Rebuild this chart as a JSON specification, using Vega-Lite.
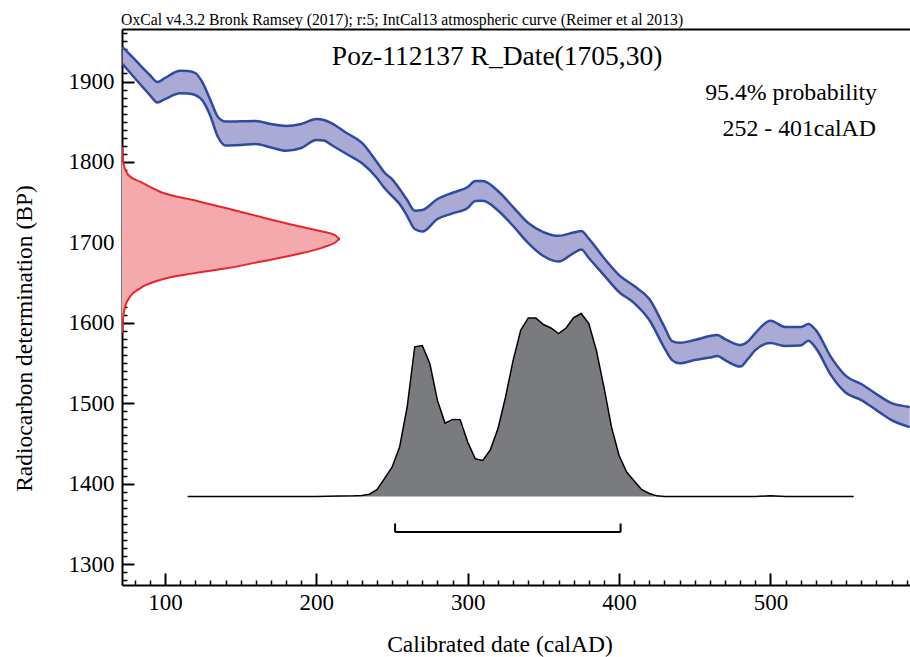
{
  "$schema": "https://vega.github.io/schema/vega-lite/v6.json",
  "width": 788,
  "height": 556,
  "autosize": {"type": "none"},
  "padding": {"left": 122, "top": 29, "right": 0, "bottom": 72},
  "background": "white",
  "config": {"view": {"stroke": null}, "font": "Liberation Serif"},
  "datasets": {
    "curve": [
      {"cal": 72, "hi": 1942.9, "lo": 1921.8},
      {"cal": 80, "hi": 1927.4, "lo": 1904.4},
      {"cal": 90, "hi": 1908.1, "lo": 1883.2},
      {"cal": 95, "hi": 1899.4, "lo": 1873.9},
      {"cal": 100, "hi": 1904.4, "lo": 1878.2},
      {"cal": 110, "hi": 1913.4, "lo": 1885.3},
      {"cal": 115, "hi": 1913.1, "lo": 1885.1},
      {"cal": 120, "hi": 1910.6, "lo": 1883.2},
      {"cal": 125, "hi": 1898.1, "lo": 1875.7},
      {"cal": 130, "hi": 1877.0, "lo": 1857.1},
      {"cal": 135, "hi": 1855.8, "lo": 1831.0},
      {"cal": 140, "hi": 1850.2, "lo": 1820.4},
      {"cal": 150, "hi": 1850.5, "lo": 1821.0},
      {"cal": 160, "hi": 1850.9, "lo": 1822.3},
      {"cal": 170, "hi": 1847.1, "lo": 1817.9},
      {"cal": 180, "hi": 1844.7, "lo": 1813.9},
      {"cal": 190, "hi": 1847.1, "lo": 1817.3},
      {"cal": 200, "hi": 1853.4, "lo": 1827.2},
      {"cal": 205, "hi": 1852.1, "lo": 1826.6},
      {"cal": 210, "hi": 1848.4, "lo": 1821.0},
      {"cal": 220, "hi": 1835.9, "lo": 1809.8},
      {"cal": 230, "hi": 1824.1, "lo": 1798.6},
      {"cal": 240, "hi": 1799.9, "lo": 1780.0},
      {"cal": 245, "hi": 1786.8, "lo": 1767.5},
      {"cal": 250, "hi": 1778.7, "lo": 1757.6},
      {"cal": 255, "hi": 1766.3, "lo": 1747.6},
      {"cal": 260, "hi": 1752.6, "lo": 1732.7},
      {"cal": 265, "hi": 1739.3, "lo": 1716.5},
      {"cal": 270, "hi": 1740.2, "lo": 1713.4},
      {"cal": 280, "hi": 1753.9, "lo": 1729.0},
      {"cal": 290, "hi": 1761.7, "lo": 1736.1},
      {"cal": 300, "hi": 1768.8, "lo": 1742.7},
      {"cal": 305, "hi": 1776.2, "lo": 1751.4},
      {"cal": 310, "hi": 1776.2, "lo": 1751.7},
      {"cal": 320, "hi": 1763.8, "lo": 1739.6},
      {"cal": 330, "hi": 1743.9, "lo": 1720.3},
      {"cal": 340, "hi": 1724.0, "lo": 1699.1},
      {"cal": 350, "hi": 1712.8, "lo": 1683.0},
      {"cal": 360, "hi": 1708.1, "lo": 1676.1},
      {"cal": 370, "hi": 1712.2, "lo": 1686.7},
      {"cal": 375, "hi": 1714.1, "lo": 1691.0},
      {"cal": 380, "hi": 1704.7, "lo": 1680.5},
      {"cal": 390, "hi": 1680.5, "lo": 1659.3},
      {"cal": 400, "hi": 1659.3, "lo": 1638.2},
      {"cal": 410, "hi": 1645.6, "lo": 1624.5},
      {"cal": 420, "hi": 1629.5, "lo": 1603.4},
      {"cal": 430, "hi": 1594.6, "lo": 1568.5},
      {"cal": 435, "hi": 1577.2, "lo": 1553.6},
      {"cal": 440, "hi": 1575.1, "lo": 1549.5},
      {"cal": 450, "hi": 1578.5, "lo": 1553.6},
      {"cal": 460, "hi": 1583.5, "lo": 1556.7},
      {"cal": 465, "hi": 1584.7, "lo": 1558.6},
      {"cal": 470, "hi": 1579.7, "lo": 1553.6},
      {"cal": 480, "hi": 1572.3, "lo": 1545.5},
      {"cal": 485, "hi": 1576.6, "lo": 1554.8},
      {"cal": 490, "hi": 1587.2, "lo": 1566.0},
      {"cal": 500, "hi": 1602.5, "lo": 1574.7},
      {"cal": 510, "hi": 1594.6, "lo": 1571.0},
      {"cal": 520, "hi": 1594.6, "lo": 1571.6},
      {"cal": 525, "hi": 1598.4, "lo": 1577.6},
      {"cal": 530, "hi": 1590.9, "lo": 1568.5},
      {"cal": 540, "hi": 1557.3, "lo": 1534.9},
      {"cal": 550, "hi": 1533.7, "lo": 1512.6},
      {"cal": 560, "hi": 1523.8, "lo": 1503.9},
      {"cal": 570, "hi": 1511.3, "lo": 1491.4},
      {"cal": 580, "hi": 1500.1, "lo": 1479.0},
      {"cal": 590, "hi": 1495.8, "lo": 1471.5},
      {"cal": 592, "hi": 1495.1, "lo": 1470.3}
    ],
    "rdate": [
      {"bp": 1587.2, "p": 0},
      {"bp": 1600, "p": 0.003},
      {"bp": 1619.9, "p": 0.014},
      {"bp": 1632.3, "p": 0.037},
      {"bp": 1642.8, "p": 0.083},
      {"bp": 1653.1, "p": 0.174},
      {"bp": 1661.4, "p": 0.327},
      {"bp": 1667.7, "p": 0.480},
      {"bp": 1675.9, "p": 0.633},
      {"bp": 1684.2, "p": 0.786},
      {"bp": 1693.8, "p": 0.923},
      {"bp": 1699.5, "p": 0.977},
      {"bp": 1704.1, "p": 1.0},
      {"bp": 1709.1, "p": 0.977},
      {"bp": 1713.2, "p": 0.923},
      {"bp": 1721.5, "p": 0.786},
      {"bp": 1731.8, "p": 0.633},
      {"bp": 1742.3, "p": 0.480},
      {"bp": 1752.6, "p": 0.327},
      {"bp": 1762.9, "p": 0.174},
      {"bp": 1775.4, "p": 0.083},
      {"bp": 1783.7, "p": 0.029},
      {"bp": 1800, "p": 0.005},
      {"bp": 1818.9, "p": 0}
    ],
    "cal": [
      {"cal": 115, "p": 0}, {"cal": 150, "p": 0}, {"cal": 200, "p": 0}, {"cal": 215, "p": 0.002},
      {"cal": 225, "p": 0.003}, {"cal": 230, "p": 0.005}, {"cal": 235, "p": 0.012}, {"cal": 240, "p": 0.037},
      {"cal": 245, "p": 0.097}, {"cal": 250, "p": 0.160}, {"cal": 255, "p": 0.270}, {"cal": 260, "p": 0.489},
      {"cal": 265, "p": 0.818}, {"cal": 270, "p": 0.825}, {"cal": 275, "p": 0.726}, {"cal": 280, "p": 0.525},
      {"cal": 285, "p": 0.401}, {"cal": 290, "p": 0.421}, {"cal": 295, "p": 0.420}, {"cal": 300, "p": 0.297},
      {"cal": 305, "p": 0.206}, {"cal": 310, "p": 0.197}, {"cal": 315, "p": 0.256}, {"cal": 320, "p": 0.371},
      {"cal": 325, "p": 0.544}, {"cal": 330, "p": 0.744}, {"cal": 335, "p": 0.909}, {"cal": 340, "p": 0.976},
      {"cal": 345, "p": 0.976}, {"cal": 350, "p": 0.940}, {"cal": 355, "p": 0.921}, {"cal": 360, "p": 0.891},
      {"cal": 365, "p": 0.921}, {"cal": 370, "p": 0.978}, {"cal": 375, "p": 1.0}, {"cal": 380, "p": 0.945},
      {"cal": 385, "p": 0.799}, {"cal": 390, "p": 0.598}, {"cal": 395, "p": 0.379}, {"cal": 400, "p": 0.224},
      {"cal": 405, "p": 0.133}, {"cal": 410, "p": 0.084}, {"cal": 415, "p": 0.037}, {"cal": 420, "p": 0.016},
      {"cal": 425, "p": 0.003}, {"cal": 430, "p": 0}, {"cal": 490, "p": 0}, {"cal": 500, "p": 0.003},
      {"cal": 510, "p": 0}, {"cal": 555, "p": 0}
    ],
    "range": [{"from": 252, "to": 401}]
  },
  "resolve": {"scale": {"x": "independent", "y": "independent"}, "axis": {"x": "independent", "y": "independent"}},
  "layer": [
    {
      "data": {"name": "curve"},
      "mark": {"type": "area", "color": "#aaaad5", "opacity": 1, "interpolate": "monotone", "clip": true},
      "encoding": {
        "x": {"field": "cal", "type": "quantitative", "scale": {"domain": [71.6, 592.2], "nice": false, "zero": false},
          "axis": {
            "orient": "bottom",
            "values": [80,90,100,110,120,130,140,150,160,170,180,190,200,210,220,230,240,250,260,270,280,290,300,310,320,330,340,350,360,370,380,390,400,410,420,430,440,450,460,470,480,490,500,510,520,530,540,550,560,570,580,590],
            "format": "d",
            "labelExpr": "datum.value % 100 === 0 ? datum.label : ''",
            "tickSize": {"condition": {"test": "datum.value % 100 === 0", "value": -12}, "value": -5},
            "tickWidth": {"condition": {"test": "datum.value % 100 === 0", "value": 2}, "value": 1.5},
            "tickColor": "black",
            "domainColor": "black", "domainWidth": 2,
            "labelFont": "Liberation Serif", "labelFontSize": 23, "labelColor": "black",
            "labelBaseline": "top", "labelPadding": 18, "labelFlush": false, "labelOverlap": false,
            "grid": false,
            "title": "Calibrated date (calAD)", "titleFont": "Liberation Serif", "titleFontSize": 23.5, "titleFontWeight": "normal", "titleColor": "black",
            "titleX": 377.5, "titleY": 66, "titleBaseline": "alphabetic", "titleAlign": "center"
          }
        },
        "y": {"field": "lo", "type": "quantitative", "scale": {"domain": [1273.9, 1965.3], "nice": false, "zero": false},
          "axis": {
            "orient": "left",
            "values": [1280,1290,1300,1310,1320,1330,1340,1350,1360,1370,1380,1390,1400,1410,1420,1430,1440,1450,1460,1470,1480,1490,1500,1510,1520,1530,1540,1550,1560,1570,1580,1590,1600,1610,1620,1630,1640,1650,1660,1670,1680,1690,1700,1710,1720,1730,1740,1750,1760,1770,1780,1790,1800,1810,1820,1830,1840,1850,1860,1870,1880,1890,1900,1910,1920,1930,1940,1950,1960],
            "format": "d",
            "labelExpr": "datum.value % 100 === 0 ? datum.label : ''",
            "tickSize": {"condition": {"test": "datum.value % 100 === 0", "value": -12}, "value": -5},
            "tickWidth": {"condition": {"test": "datum.value % 100 === 0", "value": 2}, "value": 1.5},
            "tickColor": "black",
            "domainColor": "black", "domainWidth": 2,
            "labelFont": "Liberation Serif", "labelFontSize": 23, "labelColor": "black",
            "labelAlign": "right", "labelBaseline": "middle", "labelPadding": 20, "labelFlush": false, "labelOverlap": false,
            "grid": false,
            "title": "Radiocarbon determination (BP)", "titleFont": "Liberation Serif", "titleFontSize": 23.5, "titleFontWeight": "normal", "titleColor": "black",
            "titleAngle": -90, "titleX": -91, "titleY": 309, "titleBaseline": "alphabetic", "titleAlign": "center"
          }
        },
        "y2": {"field": "hi"}
      }
    },
    {
      "data": {"name": "curve"},
      "mark": {"type": "line", "color": "#2d4ba0", "strokeWidth": 2.5, "interpolate": "monotone", "clip": true},
      "encoding": {
        "x": {"field": "cal", "type": "quantitative", "scale": {"domain": [71.6, 592.2], "nice": false, "zero": false}, "axis": null},
        "y": {"field": "hi", "type": "quantitative", "scale": {"domain": [1273.9, 1965.3], "nice": false, "zero": false}, "axis": null}
      }
    },
    {
      "data": {"name": "curve"},
      "mark": {"type": "line", "color": "#2d4ba0", "strokeWidth": 2.5, "interpolate": "monotone", "clip": true},
      "encoding": {
        "x": {"field": "cal", "type": "quantitative", "scale": {"domain": [71.6, 592.2], "nice": false, "zero": false}, "axis": null},
        "y": {"field": "lo", "type": "quantitative", "scale": {"domain": [1273.9, 1965.3], "nice": false, "zero": false}, "axis": null}
      }
    },
    {
      "data": {"name": "rdate"},
      "mark": {"type": "line", "orient": "horizontal", "fill": "#f4aaac", "stroke": "#e5262b", "strokeWidth": 2, "interpolate": "monotone", "clip": true},
      "encoding": {
        "y": {"field": "bp", "type": "quantitative", "scale": {"domain": [1273.9, 1965.3], "nice": false, "zero": false}, "axis": null},
        "x": {"field": "p", "type": "quantitative", "scale": {"domain": [0, 3.6147], "nice": false}, "axis": null},
        "order": {"field": "bp", "type": "quantitative"}
      }
    },
    {
      "layer": [
        {
          "data": {"name": "cal"},
          "mark": {"type": "area", "color": "#7a7b7e", "opacity": 1, "clip": true, "line": {"color": "black", "strokeWidth": 1.5}},
          "encoding": {
            "x": {"field": "cal", "type": "quantitative", "scale": {"domain": [71.6, 592.2], "nice": false, "zero": false}, "axis": null},
            "y": {"field": "p", "type": "quantitative", "stack": null, "scale": {"domain": [-0.4844, 2.5561], "nice": false, "zero": false}, "axis": null}
          }
        },
        {
          "data": {"name": "range"},
          "mark": {"type": "rule", "color": "black", "strokeWidth": 2},
          "encoding": {
            "x": {"field": "from", "type": "quantitative", "axis": null},
            "x2": {"field": "to"},
            "y": {"datum": -0.195, "type": "quantitative", "axis": null}
          }
        },
        {
          "data": {"name": "range"},
          "transform": [{"fold": ["from", "to"], "as": ["end", "cal"]}],
          "mark": {"type": "rule", "color": "black", "strokeWidth": 2},
          "encoding": {
            "x": {"field": "cal", "type": "quantitative", "axis": null},
            "y": {"datum": -0.195, "type": "quantitative", "axis": null},
            "y2": {"datum": -0.148}
          }
        }
      ]
    },
    {
      "layer": [
        {
          "data": {"values": [{"t": "OxCal v4.3.2 Bronk Ramsey (2017); r:5; IntCal13 atmospheric curve (Reimer et al 2013)"}]},
          "mark": {"type": "text", "font": "Liberation Serif", "fontSize": 15.7, "align": "left", "baseline": "alphabetic", "color": "black"},
          "encoding": {
            "text": {"field": "t"},
            "x": {"datum": 71.0, "type": "quantitative", "scale": {"domain": [71.6, 592.2], "nice": false, "zero": false},
              "axis": {"orient": "top", "labels": false, "ticks": false, "domain": true, "domainColor": "black", "domainWidth": 2, "title": null, "grid": false}},
            "y": {"datum": 1970.3, "type": "quantitative", "scale": {"domain": [1273.9, 1965.3], "nice": false, "zero": false}, "axis": null}
          }
        },
        {
          "data": {"values": [{"t": "Poz-112137 R_Date(1705,30)"}]},
          "mark": {"type": "text", "font": "Liberation Serif", "fontSize": 27.5, "align": "center", "baseline": "alphabetic", "color": "black"},
          "encoding": {
            "text": {"field": "t"},
            "x": {"datum": 319.4, "type": "quantitative",
              "axis": {"orient": "top", "labels": false, "ticks": false, "domain": true, "domainColor": "black", "domainWidth": 2, "title": null, "grid": false}},
            "y": {"datum": 1920.5, "type": "quantitative", "axis": null}
          }
        },
        {
          "data": {"values": [{"t": "95.4% probability"}]},
          "mark": {"type": "text", "font": "Liberation Serif", "fontSize": 23.8, "align": "right", "baseline": "alphabetic", "color": "black"},
          "encoding": {
            "text": {"field": "t"},
            "x": {"datum": 570.4, "type": "quantitative",
              "axis": {"orient": "top", "labels": false, "ticks": false, "domain": true, "domainColor": "black", "domainWidth": 2, "title": null, "grid": false}},
            "y": {"datum": 1877.0, "type": "quantitative", "axis": null}
          }
        },
        {
          "data": {"values": [{"t": "252 - 401calAD"}]},
          "mark": {"type": "text", "font": "Liberation Serif", "fontSize": 23.8, "align": "right", "baseline": "alphabetic", "color": "black"},
          "encoding": {
            "text": {"field": "t"},
            "x": {"datum": 569.7, "type": "quantitative",
              "axis": {"orient": "top", "labels": false, "ticks": false, "domain": true, "domainColor": "black", "domainWidth": 2, "title": null, "grid": false}},
            "y": {"datum": 1832.2, "type": "quantitative", "axis": null}
          }
        }
      ]
    }
  ]
}
